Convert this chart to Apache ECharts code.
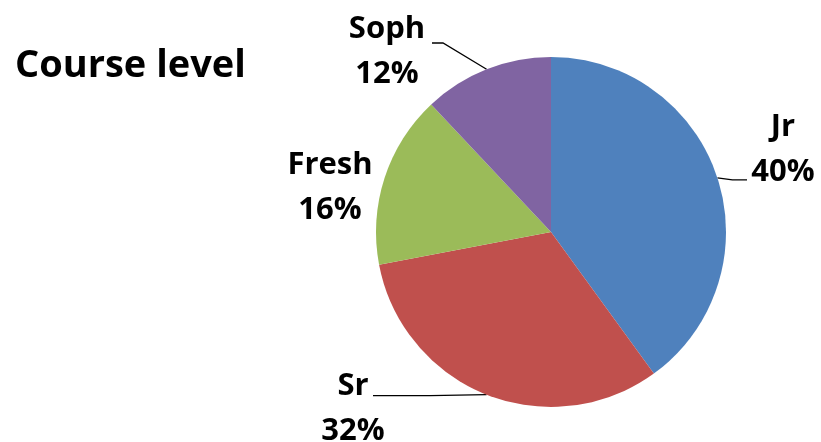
<!DOCTYPE html>
<html>
<head>
<meta charset="utf-8">
<script src="https://cdn.jsdelivr.net/npm/echarts@6/dist/echarts.min.js"></script>
<style>
  html, body { margin: 0; padding: 0; background: #fff; }
  #chart { width: 821px; height: 442px; }
</style>
</head>
<body>
<div id="chart"></div>
<script>
// Share of enrolment by course level
const categories = ['Jr', 'Sr', 'Fresh', 'Soph'];
const shares = [40, 32, 16, 12];
const sliceColors = ['#4F81BD', '#C0504D', '#9BBB59', '#8064A2'];

// Where each label block sits
const labelSpots = [
  { x: 783, y: 150 },
  { x: 353, y: 409 },
  { x: 330, y: 188 },
  { x: 387, y: 52 }
];

const chart = echarts.init(document.getElementById('chart'), null, { renderer: 'canvas' });

const FONT = '"Open Sans", "DejaVu Sans", sans-serif';

chart.setOption({
  backgroundColor: '#ffffff',
  animation: false,
  title: {
    text: 'Course level',
    left: 10,
    top: 40,
    textStyle: { fontFamily: FONT, fontWeight: 'bold', fontSize: 38, color: '#000', lineHeight: 42 }
  },
  series: [{
    type: 'pie',
    center: [551, 232],
    radius: 175,
    startAngle: 90,
    clockwise: true,
    itemStyle: { borderWidth: 0 },
    label: {
      show: true,
      formatter: '{b}\n{d}%',
      fontFamily: FONT,
      fontWeight: 'bold',
      fontSize: 31,
      lineHeight: 45,
      color: '#000',
      align: 'center',
      overflow: 'none'
    },
    labelLine: { show: true, lineStyle: { color: '#000', width: 1.3 } },
    labelLayout: function (p) {
      const i = p.dataIndex;
      const spot = labelSpots[i];
      const edge = p.labelLinePoints ? p.labelLinePoints[0] : null;
      let pts;
      if (edge) {
        if (i === 0) pts = [edge, [edge[0] + 15, edge[1] + 2], [747, edge[1] + 2]];
        else if (i === 1) pts = [edge, [430, edge[1] + 1], [373, edge[1] + 1]];
        else if (i === 3) pts = [edge, [443, 43], [432, 43]];
      }
      const out = { x: spot.x, y: spot.y, align: 'center', verticalAlign: 'middle', width: 120 };
      if (pts) out.labelLinePoints = pts;
      return out;
    },
    data: categories.map((name, i) => ({
      name: name,
      value: shares[i],
      itemStyle: { color: sliceColors[i] },
      labelLine: { show: i !== 2 }
    }))
  }]
});
</script>
</body>
</html>
